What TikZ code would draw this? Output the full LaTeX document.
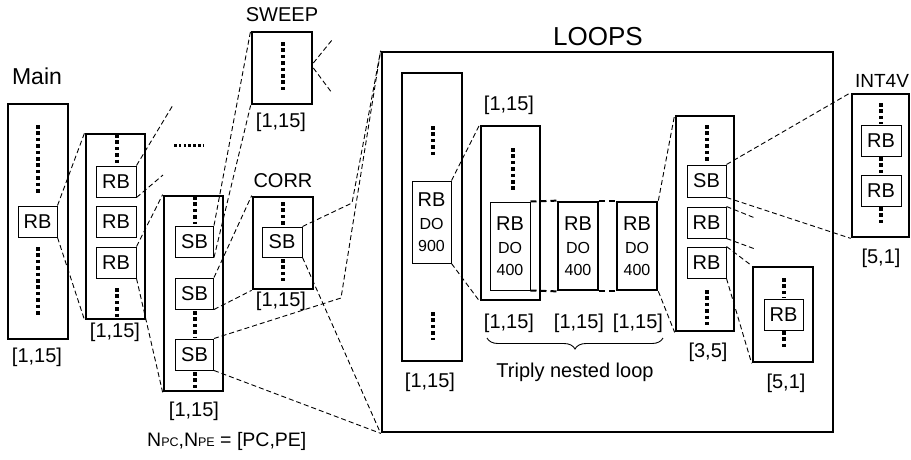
\documentclass[tikz,border=0pt]{standalone}
\usepackage{fontspec}
\setmainfont{Liberation Sans}
\usetikzlibrary{decorations.pathreplacing}
\tikzset{
  fr/.style 2 args={draw, line width=2.7pt, minimum width=#1pt, minimum height=#2pt, inner sep=0pt},
  blk/.style 2 args={draw, line width=1pt, minimum width=#1pt, minimum height=#2pt, inner sep=0pt, font=\fontsize{20}{22}\selectfont},
  lbl/.style={inner sep=0pt, font=\fontsize{20}{24}\selectfont},
  conn/.style={dash pattern=on 5pt off 3pt, line width=0.9pt},
  link/.style={dash pattern=on 6pt off 4pt, line width=2pt},
  dotln/.style={line width=4pt, dash pattern=on 3.6pt off 2.8pt},
  bigbrace/.style={decorate, decoration={brace, mirror, amplitude=11pt}, line width=0.9pt},
}
\newcommand{\vdotseg}[3]{\draw[dotln] (#1,#2) -- (#1,#3);}
\newcommand{\rbdo}[1]{RB\\[1pt]\fontsize{16}{19}\selectfont DO\\\fontsize{16}{19}\selectfont #1}

\begin{document}
\begin{tikzpicture}[x=1pt,y=-1pt]
  \useasboundingbox (0,0) rectangle (911,459);
  % Main and its children
  \node[fr={60}{235}] (main) at (38,221.5) {};
  \node[blk={39}{31}] (mrb) at (37.5,221.5) {RB};
  \vdotseg{38}{125}{195}
  \vdotseg{38}{247}{317}
  \node[lbl, font=\fontsize{23}{26}\selectfont] (tmain) at (37,76) {Main};
  \node[lbl] (imain) at (37,357) {[1,15]};

  \node[fr={59}{185}] (b2) at (115.5,226.5) {};
  \node[blk={40}{31}] (r1) at (116,181.5) {RB};
  \node[blk={40}{31}] (r2) at (116,221.5) {RB};
  \node[blk={40}{31}] (r3) at (116,262.5) {RB};
  \vdotseg{117}{134}{163}
  \vdotseg{117}{288}{319}
  \node[lbl] (ib2) at (115,332) {[1,15]};
  \draw[line width=3pt, dash pattern=on 2.6pt off 2.2pt] (174,145) -- (204,145);

  \node[fr={59}{195}] (b3) at (193.5,293.5) {};
  \node[blk={38}{31}] (s1) at (194.5,241.5) {SB};
  \node[blk={38}{31}] (s2) at (194.5,293.5) {SB};
  \node[blk={38}{31}] (s3) at (194.5,354.5) {SB};
  \vdotseg{195}{196}{224}
  \vdotseg{195}{311}{337}
  \vdotseg{195}{372}{391}
  \node[lbl] (ib3) at (194,411) {[1,15]};
  \node[lbl, anchor=west, font=\fontsize{19.5}{22}\selectfont] (npe) at (147,441)
    {N{\fontsize{12.5}{14}\selectfont PC},N{\fontsize{12.5}{14}\selectfont PE} = [PC,PE]};

  % SWEEP and CORR
  \node[fr={60}{72}] (sweep) at (282,68) {};
  \vdotseg{283}{42}{93}
  \node[lbl] (tsweep) at (282,15) {SWEEP};
  \node[lbl] (isweep) at (281,122) {[1,15]};

  \node[fr={60}{92}] (corr) at (283,243) {};
  \node[blk={40}{30}] (csb) at (282,242) {SB};
  \vdotseg{283}{202}{225}
  \vdotseg{283}{259}{281}
  \node[lbl] (tcorr) at (283,181) {CORR};
  \node[lbl] (icorr) at (281,301) {[1,15]};

  % LOOPS
  \node[fr={451}{380}] (loops) at (607.5,242) {};
  \node[lbl, font=\fontsize{26}{30}\selectfont] (tloops) at (598,37) {LOOPS};

  \node[fr={60}{288}] (la) at (432,217) {};
  \node[blk={39}{82}, align=center] (arb) at (431.5,222) {\rbdo{900}};
  \vdotseg{433}{126}{155}
  \vdotseg{433}{312}{340}
  \node[lbl] (ia) at (430,382) {[1,15]};

  \node[fr={59}{174}] (lb) at (510.5,213) {};
  \node[blk={40}{88}, align=center] (brb) at (510,246) {\rbdo{400}};
  \vdotseg{513}{148}{192}
  \node[lbl] (ibtop) at (509,105) {[1,15]};
  \node[lbl] (ib) at (509,323) {[1,15]};

  \node[fr={40}{88}, align=center, font=\fontsize{20}{22}\selectfont] (lc) at (578,246) {\rbdo{400}};
  \node[lbl] (ic) at (579,323) {[1,15]};
  \node[fr={40}{88}, align=center, font=\fontsize{20}{22}\selectfont] (ld) at (637,246) {\rbdo{400}};
  \node[lbl] (id) at (638,323) {[1,15]};
  \draw[bigbrace] (487,338) -- (663,338);
  \node[lbl] (ttriple) at (575,372) {Triply nested loop};

  \node[fr={58}{215}] (le) at (705,223.5) {};
  \node[blk={39}{32}] (esb) at (706.5,181) {SB};
  \node[blk={39}{31}] (erb) at (706.5,222.5) {RB};
  \node[blk={39}{31}] (erb2) at (706.5,262.5) {RB};
  \vdotseg{707}{125}{162}
  \vdotseg{707}{290}{325}
  \node[lbl] (ie) at (708,352) {[3,5]};

  \node[fr={60}{95}] (lf) at (783,314.5) {};
  \node[blk={39}{31}] (frb) at (783.5,314.5) {RB};
  \vdotseg{784}{278}{298}
  \vdotseg{784}{331}{350}
  \node[lbl] (if) at (786,383) {[5,1]};

  % INT4V
  \node[fr={57}{143}] (int) at (880.5,165.5) {};
  \node[blk={40}{31}] (irb1) at (881,140.5) {RB};
  \node[blk={40}{31}] (irb2) at (881,190.5) {RB};
  \vdotseg{881}{103}{124}
  \vdotseg{881}{157}{174}
  \vdotseg{881}{207}{226}
  \node[lbl, font=\fontsize{19}{22}\selectfont] (tint) at (882,81) {INT4V};
  \node[lbl] (iint) at (881,258) {[5,1]};

  % expansion lines
  \coordinate (fe1) at (173,105);
  \coordinate (fe2) at (163,175);
  \coordinate (fe3) at (332,40);
  \coordinate (fe4) at (332,93);
  \coordinate (bend1) at (341,298);
  \coordinate (bend2) at (352,203);
  \coordinate (fe5) at (755,218);
  \coordinate (fe6) at (755,249);
  \draw[conn] (mrb.north east) -- (b2.north west);
  \draw[conn] (mrb.south east) -- (b2.south west);
  \draw[conn] (r1.north east) -- (fe1);
  \draw[conn] (r1.south east) -- (fe2);
  \draw[conn] (r3.north east) -- (b3.north west);
  \draw[conn] (r3.south east) -- (b3.south west);
  \draw[conn] (s1.north east) -- (sweep.north west);
  \draw[conn] (s1.south east) -- (sweep.south west);
  \draw[conn] ([yshift=5pt]sweep.east) -- (fe3);
  \draw[conn] (sweep.east) -- (fe4);
  \draw[conn] (s2.north east) -- (corr.north west);
  \draw[conn] (s2.south east) -- (corr.south west);
  \draw[conn] (s3.north east) -- (bend1) -- (loops.north west);
  \draw[conn] (s3.south east) -- (loops.south west);
  \draw[conn] (csb.north east) -- (bend2) -- (loops.north west);
  \draw[conn] (csb.south east) -- (loops.south west);
  \draw[conn] (arb.north east) -- (lb.north west);
  \draw[conn] (arb.south east) -- (lb.south west);
  \draw[link] (brb.north east) -- (lc.north west);
  \draw[link] (lc.north east) -- (ld.north west);
  \draw[link] (brb.south east) -- (lc.south west);
  \draw[link] (lc.south east) -- (ld.south west);
  \draw[conn] (ld.north east) -- (le.north west);
  \draw[conn] (ld.south east) -- (le.south west);
  \draw[conn] (esb.north east) -- (int.north west);
  \draw[conn] (esb.south east) -- (int.south west);
  \draw[conn] (erb.north east) -- (fe5);
  \draw[conn] (erb.south east) -- (fe6);
  \draw[conn] (erb2.north east) -- (lf.north west);
  \draw[conn] (erb2.south east) -- (lf.south west);
\end{tikzpicture}
\end{document}
